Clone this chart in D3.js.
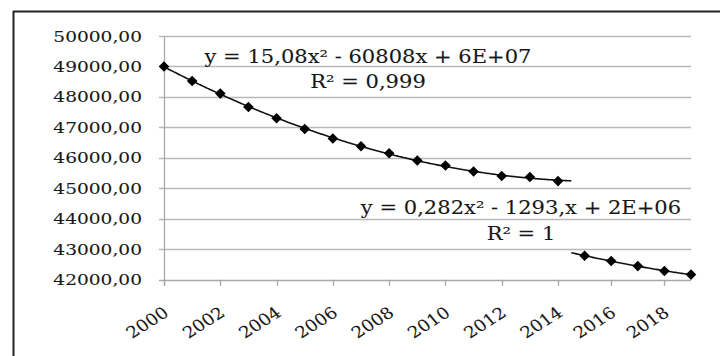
<!DOCTYPE html>
<html><head><meta charset="utf-8">
<script src="https://cdn.jsdelivr.net/npm/d3@7"></script>
<style>body{margin:0;background:#fff}svg{display:block}</style>
</head><body>
<svg id="c" width="720" height="356"></svg>
<script>
// ---- data ----
const years1  = [2000,2001,2002,2003,2004,2005,2006,2007,2008,2009,2010,2011,2012,2013,2014];
const values1 = [49000,48525,48110,47670,47300,46950,46635,46385,46150,45915,45752,45552,45405,45375,45238];
const years2  = [2015,2016,2017,2018,2019];
const values2 = [42790,42615,42450,42290,42170];
const yTicks  = [42000,43000,44000,45000,46000,47000,48000,49000,50000];
const xTicks  = [2000,2002,2004,2006,2008,2010,2012,2014,2016,2018];
const eq1 = ["y = 15,08x\u00B2 - 60808x + 6E+07", "R\u00B2 = 0,999"];
const eq2 = ["y = 0,282x\u00B2 - 1293,x + 2E+06", "R\u00B2 = 1"];

// ---- setup ----
const svg = d3.select("#c");
const font = "'DejaVu Serif', serif";
const ink = "#181818";
const x = d3.scaleLinear().domain([2000, 2014, 2019]).range([164, 558, 691]);
const y = d3.scaleLinear().domain([42000, 50000]).range([279.8, 36]);
const loc = d3.formatLocale({decimal: ",", thousands: " ", grouping: [3], currency: ["", ""]});
const fmt = loc.format(".2f");

// frame
svg.append("line").attr("x1", 13).attr("x2", 720).attr("y1", 11.5).attr("y2", 11.5)
  .attr("stroke", "#222").attr("stroke-width", 2);
svg.append("line").attr("x1", 13.5).attr("x2", 13.5).attr("y1", 11).attr("y2", 356)
  .attr("stroke", "#222").attr("stroke-width", 2);

// gridlines + y ticks
svg.append("g").selectAll("line").data(yTicks).join("line")
  .attr("x1", x(2000) - 5).attr("x2", x(2019))
  .attr("y1", d => Math.round(y(d)) + 0.5).attr("y2", d => Math.round(y(d)) + 0.5)
  .attr("stroke", d => d === 42000 ? "#a8a8a8" : "#b9b9b9").attr("stroke-width", 1.3);
// y axis line
svg.append("line").attr("x1", x(2000) + 0.5).attr("x2", x(2000) + 0.5)
  .attr("y1", y(50000)).attr("y2", y(42000) + 6)
  .attr("stroke", "#a8a8a8").attr("stroke-width", 1.3);
// x ticks
svg.append("g").selectAll("line").data(xTicks).join("line")
  .attr("x1", d => Math.round(x(d)) + 0.5).attr("x2", d => Math.round(x(d)) + 0.5)
  .attr("y1", y(42000)).attr("y2", y(42000) + 6)
  .attr("stroke", "#a8a8a8").attr("stroke-width", 1.3);

// y labels (horizontally stretched text)
svg.append("g").selectAll("g").data(yTicks).join("g")
  .attr("transform", d => `translate(142,${y(d) + 5.5}) scale(1.24,1)`)
  .append("text").attr("text-anchor", "end")
  .attr("font-family", font).attr("font-size", 15).attr("fill", ink)
  .attr("stroke", ink).attr("stroke-width", 0.1)
  .text(d => fmt(d));

// x labels
svg.append("g").selectAll("g").data(xTicks).join("g")
  .attr("transform", d => `translate(${x(d) + 6},315) scale(1.15,1) rotate(-36)`)
  .append("text").attr("text-anchor", "end")
  .attr("font-family", font).attr("font-size", 16).attr("fill", ink)
  .attr("stroke", ink).attr("stroke-width", 0.1)
  .text(d => d);

// quadratic least-squares fit (t = year - 2000)
function polyfit2(xs, ys) {
  const t = xs.map(v => v - 2000);
  const S = k => d3.sum(t, v => Math.pow(v, k));
  const Sy = k => d3.sum(t, (v, i) => Math.pow(v, k) * ys[i]);
  const A = [[S(0), S(1), S(2), Sy(0)], [S(1), S(2), S(3), Sy(1)], [S(2), S(3), S(4), Sy(2)]];
  for (let i = 0; i < 3; i++) {
    for (let j = i + 1; j < 3; j++) {
      const f = A[j][i] / A[i][i];
      for (let k = i; k < 4; k++) A[j][k] -= f * A[i][k];
    }
  }
  const c = [0, 0, 0];
  for (let i = 2; i >= 0; i--) {
    let s = A[i][3];
    for (let k = i + 1; k < 3; k++) s -= A[i][k] * c[k];
    c[i] = s / A[i][i];
  }
  return yr => { const tt = yr - 2000; return c[0] + c[1] * tt + c[2] * tt * tt; };
}
const f1 = polyfit2(years1, values1);
const f2 = polyfit2(years2, values2);
const line = d3.line().x(d => x(d[0])).y(d => y(d[1])).curve(d3.curveLinear);
const samp = (a, b, f) => d3.range(a, b + 1e-9, 0.05).map(v => [v, f(v)]);
svg.append("path").attr("d", line(samp(2000, 2014.5, f1)))
  .attr("fill", "none").attr("stroke", "#111").attr("stroke-width", 1.6);
svg.append("path").attr("d", line(samp(2014.5, 2019, f2)))
  .attr("fill", "none").attr("stroke", "#111").attr("stroke-width", 1.6);

// markers (diamonds)
const diamond = d3.symbol().type(d3.symbolSquare).size(56);
const pts = years1.map((yr, i) => [yr, values1[i]]).concat(years2.map((yr, i) => [yr, values2[i]]));
svg.append("g").selectAll("path").data(pts).join("path")
  .attr("d", diamond)
  .attr("transform", d => `translate(${x(d[0])},${y(d[1])}) rotate(45)`)
  .attr("fill", "#000");

// trendline equations
function eqText(lines, cx, baselines, size, sx) {
  lines.forEach((s, i) => {
    svg.append("g").attr("transform", `translate(${cx},${baselines[i]}) scale(${sx},1)`)
      .append("text").attr("text-anchor", "middle")
      .attr("font-family", font).attr("font-size", size).attr("fill", ink)
      .attr("stroke", ink).attr("stroke-width", 0.1)
      .text(s);
  });
}
eqText(eq1, 368, [63, 88], 18, 1.17);
eqText(eq2, 521, [214, 240], 18, 1.17);
</script>
</body></html>
